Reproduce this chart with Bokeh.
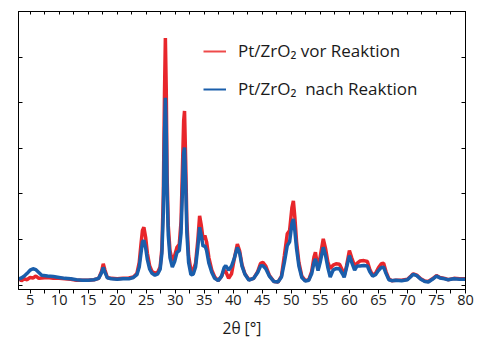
from bokeh.plotting import figure
from bokeh.models import (LinearAxis, FixedTicker, Legend, LegendItem,
                          ColumnDataSource, CustomLabelingPolicy)
from bokeh.embed import file_html
from bokeh.resources import INLINE

# 2theta (degrees)
two_theta = [3.0, 3.5, 4.0, 4.5, 5.0, 5.5, 6.0, 6.5, 7.0, 8.0, 9.0, 10.0, 11.0, 12.0, 13.0, 14.0, 15.0, 16.0,
             16.8, 17.3, 17.6, 17.9, 18.3, 19.0, 20.0, 21.0, 22.0, 22.8, 23.4, 23.8, 24.1, 24.35, 24.6, 24.9,
             25.2, 25.6, 26.0, 26.5, 27.0, 27.4, 27.7, 27.95, 28.15, 28.3, 28.45, 28.6, 28.8, 29.1, 29.5, 29.9,
             30.3, 30.7, 31.0, 31.25, 31.45, 31.6, 31.8, 32.0, 32.3, 32.7, 33.1, 33.5, 33.9, 34.2, 34.5, 34.8,
             35.1, 35.4, 35.8, 36.3, 36.8, 37.4, 38.0, 38.4, 38.7, 39.2, 39.7, 40.2, 40.7, 41.1, 41.5, 42.0,
             42.7, 43.5, 44.2, 44.7, 45.1, 45.6, 46.2, 47.0, 47.7, 48.3, 48.8, 49.3, 49.7, 50.1, 50.35, 50.6,
             50.9, 51.3, 51.8, 52.4, 53.0, 53.5, 53.9, 54.15, 54.6, 55.0, 55.5, 55.9, 56.3, 56.7, 57.2, 57.7,
             58.3, 58.8, 59.1, 59.5, 60.0, 60.4, 60.9, 61.3, 61.8, 62.5, 63.1, 63.5, 64.0, 64.5, 65.0, 65.5,
             65.9, 66.3, 66.8, 67.3, 68.0, 69.0, 70.0, 70.6, 71.0, 71.6, 72.3, 73.0, 73.6, 74.3, 75.0, 75.6,
             76.4, 77.0, 78.0, 79.0, 80.0]

# intensity, Pt/ZrO2 before reaction (red)
vor = [150, 100, 140, 120, 170, 160, 200, 150, 160, 170, 150, 150, 140, 130, 110, 110, 110, 120,
       150, 300, 470, 330, 170, 150, 140, 150, 160, 180, 260, 500, 900, 1200, 1270, 1050,
       700, 420, 300, 260, 290, 400, 800, 2000, 4200, 5420, 4300, 2400, 1300, 750, 540, 650,
       830, 900, 1400, 2600, 3600, 3820, 2700, 1400, 650, 330, 330, 480, 1000, 1520, 1300, 1000,
       1090, 950, 600, 330, 180, 100, 200, 330, 300, 150, 250, 600, 900, 750, 450, 250,
       120, 150, 300, 480, 500, 420, 220, 80, 70, 200, 650, 1130, 1200, 1700, 1850, 1500,
       950, 500, 200, 100, 120, 300, 620, 720, 350, 650, 1015, 800, 500, 365, 440, 470,
       460, 330, 200, 420, 760, 600, 420, 480, 530, 540, 520, 350, 220, 260, 380, 470,
       480, 300, 140, 100, 110, 110, 130, 200, 250, 220, 140, 90, 80, 140, 210, 170,
       150, 120, 150, 140, 140]

# intensity, Pt/ZrO2 after reaction (blue)
nach = [130, 160, 200, 260, 330, 360, 340, 280, 220, 200, 190, 170, 150, 140, 120, 110, 110, 120,
        150, 270, 390, 280, 160, 140, 130, 140, 140, 170, 230, 400, 700, 950, 980, 820,
        560, 350, 260, 220, 250, 350, 700, 1600, 3300, 4110, 3400, 2000, 1100, 600, 400, 520,
        720, 760, 1150, 2100, 2900, 3020, 2200, 1150, 500, 230, 240, 400, 850, 1270, 1080, 850,
        870, 760, 480, 280, 150, 100, 200, 380, 430, 330, 420, 600, 830, 700, 420, 240,
        110, 150, 280, 420, 430, 360, 200, 80, 70, 180, 500, 870, 950, 1350, 1450, 1200,
        800, 420, 170, 90, 110, 250, 500, 575, 320, 520, 830, 650, 380, 180, 330, 365,
        360, 250, 175, 380, 650, 500, 330, 420, 420, 430, 420, 300, 200, 230, 320, 390,
        395, 260, 120, 100, 110, 100, 120, 190, 240, 210, 130, 80, 70, 130, 200, 160,
        140, 120, 140, 130, 130]

x_ticks = [5, 10, 15, 20, 25, 30, 35, 40, 45, 50, 55, 60, 65, 70, 75, 80]
y_ticks = [0, 1000, 2000, 3000, 4000, 5000, 6000]
labels = ["Pt/ZrO₂ vor Reaktion", "Pt/ZrO₂  nach Reaktion"]

FONT = "Open Sans"
RED = "#e8262b"
BLUE = "#1a5eab"
TXT = "#1a1a1a"

p = figure(width=489, height=344, x_range=(3, 80), y_range=(-94, 6000),
           output_backend="svg", toolbar_location=None,
           x_axis_location=None, y_axis_location=None,
           min_border_left=18, min_border_right=24, min_border_top=11, min_border_bottom=55)
p.grid.visible = False
p.outline_line_color = "black"
p.background_fill_color = "white"
p.border_fill_color = "white"

src = ColumnDataSource(dict(x=two_theta, vor=vor, nach=nach))
r_vor = p.line("x", "vor", source=src, line_color=RED, line_width=3.5)
r_nach = p.line("x", "nach", source=src, line_color=BLUE, line_width=3.5)

# thin line renderers used only as legend swatches (they draw nothing in the plot)
leg_src = ColumnDataSource(dict(x=[float("nan")], y=[float("nan")]))
l_vor = p.line("x", "y", source=leg_src, line_color="#ee4a4a", line_width=2)
l_nach = p.line("x", "y", source=leg_src, line_color=BLUE, line_width=2)

no_labels = CustomLabelingPolicy(code="""
const n = indices.size
for (let i = 0; i < n; i++) indices.unset(i)
return indices
""")

def xticker():
    return FixedTicker(ticks=x_ticks, minor_ticks=[t - 2.5 for t in x_ticks])

bottom = LinearAxis(ticker=xticker(), axis_label="2θ [°]")
bottom.major_tick_in = 0
bottom.major_tick_out = 4
bottom.minor_tick_in = 0
bottom.minor_tick_out = 4
bottom.major_label_standoff = 1
bottom.axis_label_standoff = 9
bottom.major_label_text_font = FONT
bottom.major_label_text_font_size = "14.5px"
bottom.major_label_text_color = TXT
bottom.axis_label_text_font = FONT
bottom.axis_label_text_font_style = "normal"
bottom.axis_label_text_font_size = "15.5px"
bottom.axis_label_text_color = TXT
p.add_layout(bottom, "below")

top = LinearAxis(ticker=xticker())
top.major_tick_in = 3
top.major_tick_out = 0
top.minor_tick_in = 3
top.minor_tick_out = 0
top.major_label_text_font_size = "1px"
top.major_label_standoff = 0
top.major_label_policy = no_labels
p.add_layout(top, "above")

for side in ("left", "right"):
    ax = LinearAxis(ticker=FixedTicker(ticks=y_ticks))
    ax.major_tick_in = 4
    ax.major_tick_out = 0
    ax.minor_tick_line_color = None
    ax.major_label_text_font_size = "1px"
    ax.major_label_standoff = 0
    ax.major_label_policy = no_labels
    p.add_layout(ax, side)

legend = Legend(items=[LegendItem(label=labels[0], renderers=[l_vor]),
                       LegendItem(label=labels[1], renderers=[l_nach])],
                location=(185, 189))
legend.border_line_color = None
legend.background_fill_alpha = 0
legend.padding = 0
legend.margin = 0
legend.spacing = 15
legend.glyph_width = 23
legend.glyph_height = 20
legend.label_height = 20
legend.label_standoff = 12
legend.label_text_font = FONT
legend.label_text_font_size = "17px"
legend.label_text_color = TXT
p.add_layout(legend)

open("out.html", "w").write(file_html(p, INLINE))
